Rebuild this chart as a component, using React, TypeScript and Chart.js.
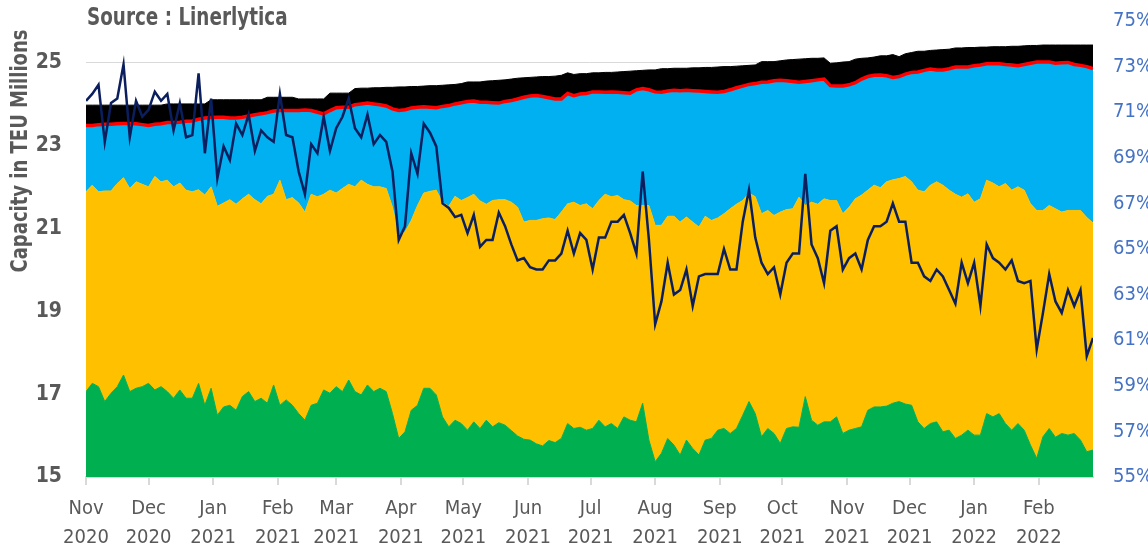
import React, { useEffect, useRef } from 'react';
import { Chart, registerables } from 'chart.js';

Chart.register(...registerables);

// ---- data ----
const START_DATE = '2020-11-01';
const STEP_DAYS = 3; // one sample every 3 days

const MONTH_STARTS = [
  '2020-11-01', '2020-12-01', '2021-01-01', '2021-02-01', '2021-03-01', '2021-04-01',
  '2021-05-01', '2021-06-01', '2021-07-01', '2021-08-01', '2021-09-01', '2021-10-01',
  '2021-11-01', '2021-12-01', '2022-01-01', '2022-02-01',
];
const MONTH_LABELS = ['Nov', 'Dec', 'Jan', 'Feb', 'Mar', 'Apr', 'May', 'Jun', 'Jul', 'Aug', 'Sep', 'Oct', 'Nov', 'Dec', 'Jan', 'Feb'];
const YEAR_LABELS = ['2020', '2020', '2021', '2021', '2021', '2021', '2021', '2021', '2021', '2021', '2021', '2021', '2021', '2021', '2022', '2022'];

const LEFT_TICKS = [15, 17, 19, 21, 23, 25];
const RIGHT_TICKS = [55, 57, 59, 61, 63, 65, 67, 69, 71, 73, 75];

// upper edge of each band, TEU millions
const GREEN_TOP = [
  17.06, 17.26, 17.18, 16.82, 17.02, 17.18, 17.46, 17.06, 17.14, 17.18,
  17.26, 17.10, 17.18, 17.06, 16.90, 17.10, 16.90, 16.90, 17.26, 16.73,
  17.14, 16.49, 16.69, 16.73, 16.61, 16.94, 17.06, 16.82, 16.90, 16.78,
  17.22, 16.73, 16.86, 16.73, 16.53, 16.37, 16.73, 16.78, 17.10, 17.02,
  17.18, 17.06, 17.34, 17.06, 16.98, 17.22, 17.06, 17.14, 17.06, 16.53,
  15.93, 16.09, 16.61, 16.73,
  17.14, 17.14, 16.98, 16.45, 16.21, 16.37, 16.29, 16.13, 16.33, 16.17,
  16.37, 16.21, 16.31, 16.25, 16.12, 15.99, 15.91, 15.89, 15.80, 15.75,
  15.88, 15.83, 15.93, 16.29, 16.17, 16.20, 16.13, 16.17, 16.37, 16.21,
  16.29, 16.17, 16.45, 16.37, 16.33, 16.78, 15.89, 15.37, 15.57, 15.93,
  15.77, 15.53, 15.89, 15.69, 15.53, 15.89, 15.93, 16.13, 16.17, 16.05,
  16.17, 16.49, 16.82, 16.53,
  15.97, 16.17, 16.05, 15.81, 16.17, 16.21, 16.20, 16.94, 16.37, 16.25,
  16.33, 16.33, 16.45, 16.05, 16.13, 16.17, 16.21, 16.61, 16.69, 16.69,
  16.71, 16.78, 16.82, 16.76, 16.73, 16.33, 16.17, 16.29, 16.33, 16.09,
  16.13, 15.93, 16.01, 16.13, 16.01, 16.01, 16.53, 16.45, 16.53, 16.29,
  16.13, 16.29, 16.13, 15.77, 15.45, 15.97, 16.17, 15.96, 16.05, 16.01,
  16.05, 15.89, 15.61, 15.65,
];

const YELLOW_TOP = [
  21.88, 22.04, 21.88, 21.90, 21.90, 22.08, 22.22, 21.96, 22.12, 22.06,
  22.00, 22.25, 22.12, 22.16, 22.00, 22.09, 21.92, 21.88, 21.93, 21.80,
  22.00, 21.53, 21.61, 21.69, 21.58, 21.71, 21.82, 21.69, 21.59, 21.77,
  21.82, 22.16, 21.69, 21.74, 21.61, 21.39, 21.82, 21.76, 21.82, 21.92,
  21.85, 21.96, 22.06, 22.00, 22.16, 22.06, 22.00, 22.00, 21.96, 21.51,
  20.83, 20.91, 21.19, 21.55,
  21.85, 21.89, 21.92, 21.63, 21.53, 21.77, 21.67, 21.74, 21.82, 21.66,
  21.58, 21.67, 21.69, 21.69, 21.63, 21.51, 21.15, 21.19, 21.19, 21.23,
  21.25, 21.21, 21.39, 21.59, 21.63, 21.55, 21.59, 21.47, 21.67, 21.82,
  21.76, 21.79, 21.69, 21.66, 21.55, 21.55, 21.55, 21.07, 21.07, 21.29,
  21.29, 21.15, 21.27, 21.15, 21.03, 21.29, 21.19, 21.25, 21.35, 21.47,
  21.58, 21.67, 21.85, 21.76,
  21.35, 21.43, 21.31, 21.39, 21.45, 21.47, 21.75, 21.55, 21.63, 21.58,
  21.71, 21.67, 21.67, 21.35, 21.51, 21.71, 21.80, 21.92, 22.04, 21.98,
  22.12, 22.17, 22.20, 22.25, 22.12, 21.92, 21.88, 22.04, 22.12, 22.04,
  21.92, 21.82, 21.75, 21.83, 21.63, 21.71, 22.16, 22.09, 22.00, 22.08,
  21.92, 22.00, 21.92, 21.59, 21.43, 21.43, 21.55, 21.47, 21.39, 21.43,
  21.43, 21.43, 21.26, 21.13,
];

const BLUE_TOP = [
  23.48, 23.48, 23.50, 23.51, 23.51, 23.52, 23.53, 23.53, 23.52, 23.50,
  23.48, 23.51, 23.52, 23.55, 23.55, 23.56, 23.58, 23.59, 23.63, 23.66,
  23.67, 23.68, 23.68, 23.66, 23.66, 23.68, 23.71, 23.74, 23.76, 23.79,
  23.83, 23.84, 23.84, 23.84, 23.84, 23.85, 23.84, 23.80, 23.76, 23.84,
  23.91, 23.92, 23.92, 23.98, 24.00, 24.02, 24.00, 23.98, 23.95, 23.88,
  23.84, 23.86, 23.90, 23.92,
  23.93, 23.92, 23.91, 23.94, 23.96, 24.00, 24.03, 24.06, 24.07, 24.04,
  24.04, 24.03, 24.02, 24.06, 24.08, 24.12, 24.16, 24.19, 24.20, 24.18,
  24.15, 24.12, 24.12, 24.25, 24.20, 24.24, 24.25, 24.29, 24.29, 24.28,
  24.29, 24.28, 24.27, 24.26, 24.34, 24.37, 24.34, 24.29, 24.28, 24.31,
  24.33, 24.32, 24.33, 24.32, 24.31, 24.30, 24.29, 24.28, 24.30, 24.34,
  24.39, 24.43, 24.47, 24.49,
  24.52, 24.53, 24.56, 24.57, 24.56, 24.54, 24.52, 24.54, 24.56, 24.58,
  24.60, 24.44, 24.43, 24.43, 24.46, 24.51, 24.60, 24.66, 24.69, 24.70,
  24.68, 24.64, 24.66, 24.72, 24.76, 24.77, 24.81, 24.84, 24.82, 24.82,
  24.85, 24.89, 24.89, 24.89, 24.92, 24.94, 24.97, 24.97, 24.97, 24.95,
  24.94, 24.92, 24.95, 24.98, 25.01, 25.01, 25.01, 24.98, 24.99, 25.00,
  24.95, 24.93, 24.90, 24.85,
];

const BLACK_TOP = [
  23.97, 23.97, 23.97, 23.97, 23.97, 23.97, 23.97, 23.97, 23.97, 23.97,
  23.97, 23.97, 23.97, 24.00, 24.00, 24.00, 24.00, 24.00, 24.00, 24.00,
  24.10, 24.10, 24.10, 24.10, 24.10, 24.10, 24.10, 24.10, 24.10, 24.16,
  24.16, 24.16, 24.16, 24.16, 24.12, 24.12, 24.12, 24.12, 24.12, 24.26,
  24.26, 24.26, 24.26, 24.37, 24.38, 24.38, 24.39, 24.39, 24.40, 24.40,
  24.41, 24.41, 24.42, 24.42,
  24.43, 24.44, 24.44, 24.45, 24.46, 24.47, 24.49, 24.53, 24.53, 24.53,
  24.55, 24.56, 24.57, 24.58, 24.60, 24.62, 24.63, 24.64, 24.65, 24.66,
  24.66, 24.67, 24.69, 24.75, 24.71, 24.73, 24.73, 24.75, 24.75, 24.76,
  24.76, 24.77, 24.78, 24.79, 24.80, 24.81, 24.82, 24.82, 24.85, 24.85,
  24.86, 24.86, 24.86, 24.87, 24.87, 24.88, 24.88, 24.89, 24.90, 24.90,
  24.91, 24.92, 24.93, 24.94,
  25.02, 25.02, 25.02, 25.04, 25.06, 25.07, 25.08, 25.09, 25.10, 25.10,
  25.11, 24.98, 24.99, 25.01, 25.02, 25.08, 25.10, 25.11, 25.13, 25.16,
  25.16, 25.19, 25.14, 25.21, 25.24, 25.27, 25.27, 25.29, 25.30, 25.31,
  25.32, 25.35, 25.35, 25.36, 25.36, 25.37, 25.37, 25.38, 25.38, 25.38,
  25.39, 25.39, 25.40, 25.41, 25.41, 25.42, 25.42, 25.42, 25.42, 25.42,
  25.42, 25.42, 25.42, 25.42,
];

// utilisation %, right axis
const UTILISATION = [
  71.5, 71.8, 72.2, 69.7, 71.4, 71.6, 73.1, 69.9, 71.5, 70.8,
  71.1, 71.9, 71.5, 71.8, 70.2, 71.4, 69.9, 70.0, 72.7, 69.2,
  71.6, 68.1, 69.5, 68.9, 70.5, 70.0, 70.9, 69.3, 70.2, 69.9,
  69.7, 71.8, 70.0, 69.9, 68.4, 67.4, 69.6, 69.2, 70.8, 69.3,
  70.3, 70.8, 71.6, 70.3, 69.9, 70.9, 69.6, 70.0, 69.7, 68.4,
  65.4, 66.0, 69.2, 68.3,
  70.5, 70.1, 69.5, 67.0, 66.8, 66.4, 66.5, 65.7, 66.5, 65.1,
  65.4, 65.4, 66.6, 66.0, 65.2, 64.5, 64.6, 64.2, 64.1, 64.1,
  64.5, 64.5, 64.8, 65.8, 64.8, 65.7, 65.4, 64.1, 65.5, 65.5,
  66.2, 66.2, 66.5, 65.7, 64.8, 68.4, 65.4, 61.7, 62.7, 64.4,
  63.0, 63.2, 64.1, 62.5, 63.8, 63.9, 63.9, 63.9, 65.0, 64.1,
  64.1, 66.2, 67.6, 65.5,
  64.4, 63.9, 64.2, 63.0, 64.4, 64.8, 64.8, 68.3, 65.2, 64.6,
  63.5, 65.8, 66.0, 64.1, 64.6, 64.8, 64.1, 65.4, 66.0, 66.0,
  66.2, 67.0, 66.2, 66.2, 64.4, 64.4, 63.8, 63.6, 64.1, 63.8,
  63.2, 62.6, 64.4, 63.5, 64.4, 62.5, 65.2, 64.6, 64.4, 64.1,
  64.5, 63.6, 63.5, 63.6, 60.6, 62.2, 63.9, 62.7, 62.2, 63.2,
  62.5, 63.2, 60.3, 61.1,
];

// ---- helpers ----
const DAY_MS = 86400000;
const dayOffset = (d: string) => Math.round((Date.parse(d) - Date.parse(START_DATE)) / DAY_MS);
const MONTH_OFFSETS = MONTH_STARTS.map(dayOffset);
const LAST_DAY = (GREEN_TOP.length - 1) * STEP_DAYS;
const toXY = (arr: number[]) => arr.map((y, i) => ({ x: i * STEP_DAYS, y }));

const FONT = "'DejaVu Sans Condensed', 'Liberation Sans Narrow', 'Roboto', sans-serif";
const GRAY = '#595959';

const drawCondensed = (ctx: any, text: string, x: number, y: number, sx: number, align: string) => {
  ctx.save();
  ctx.translate(x, y);
  ctx.scale(sx, 1);
  ctx.textAlign = align;
  ctx.fillText(text, 0, 0);
  ctx.restore();
};

const textPlugin = {
  id: 'extraTexts',
  afterDraw(chart: any) {
    const ctx = chart.ctx;
    ctx.save();
    ctx.fillStyle = GRAY;
    ctx.textBaseline = 'alphabetic';
    ctx.font = `bold 24px ${FONT}`;
    drawCondensed(ctx, 'Source : Linerlytica', chart.chartArea.left + 1, 25, 0.85, 'left');
    ctx.translate(27, 151);
    ctx.rotate(-Math.PI / 2);
    ctx.font = `bold 23px ${FONT}`;
    drawCondensed(ctx, 'Capacity in TEU Millions', 0, 0, 0.87, 'center');
    ctx.restore();
  },
};

const noEdgePadding = (s: any) => {
  s.paddingTop = 0;
  s.paddingBottom = 0;
  s.paddingLeft = 0;
  s.paddingRight = 0;
};

export default function App() {
  const ref = useRef<HTMLCanvasElement | null>(null);

  useEffect(() => {
    if (!ref.current) return;
    const area = (data: number[], color: string, fill: any) => ({
      data: toXY(data),
      yAxisID: 'y',
      backgroundColor: color,
      borderColor: color,
      borderWidth: 1,
      fill,
      pointRadius: 0,
      tension: 0,
      order: 2,
    });
    const chart = new Chart(ref.current, {
      type: 'line',
      data: {
        datasets: [
          area(GREEN_TOP, '#00B050', 'start'),
          area(YELLOW_TOP, '#FFC000', '-1'),
          area(BLUE_TOP, '#00B0F0', '-1'),
          area(BLACK_TOP, '#000000', '-1'),
          {
            data: toXY(BLUE_TOP),
            yAxisID: 'y',
            borderColor: '#FF0000',
            borderWidth: 3.5,
            fill: false,
            pointRadius: 0,
            tension: 0,
            order: 1,
          },
          {
            data: toXY(UTILISATION),
            yAxisID: 'y2',
            borderColor: '#0B1F5E',
            borderWidth: 2.5,
            fill: false,
            pointRadius: 0,
            tension: 0,
            order: 0,
          },
        ],
      },
      options: {
        responsive: false,
        animation: false,
        devicePixelRatio: 1,
        layout: { padding: { top: 21, left: 0, right: 0, bottom: 0 } },
        plugins: { legend: { display: false }, tooltip: { enabled: false } },
        scales: {
          x: {
            type: 'linear',
            min: 0,
            max: LAST_DAY,
            afterBuildTicks: (s: any) => {
              s.ticks = MONTH_OFFSETS.map((v) => ({ value: v }));
            },
            afterFit: (s: any) => {
              s.height = 75;
              noEdgePadding(s);
            },
            grid: { drawOnChartArea: false, drawTicks: true, tickLength: 8, color: '#D9D9D9', lineWidth: 2 },
            border: { display: true, color: '#D9D9D9', width: 2 },
            ticks: {
              autoSkip: false,
              maxRotation: 0,
              minRotation: 0,
              padding: 9,
              color: GRAY,
              font: { family: FONT, size: 20, lineHeight: 1.47 },
              callback: (v: any) => {
                const idx = MONTH_OFFSETS.indexOf(Number(v));
                return idx >= 0 ? [MONTH_LABELS[idx], YEAR_LABELS[idx]] : '';
              },
            },
          },
          y: {
            type: 'linear',
            position: 'left',
            min: 15,
            max: 26,
            afterBuildTicks: (s: any) => {
              s.ticks = LEFT_TICKS.map((v) => ({ value: v }));
            },
            afterFit: (s: any) => {
              s.width = 86;
              noEdgePadding(s);
            },
            grid: { color: '#D9D9D9', lineWidth: 1, drawTicks: false },
            border: { display: false },
            ticks: {
              padding: 24,
              color: GRAY,
              font: { family: FONT, size: 21, weight: 'bold' },
            },
          },
          y2: {
            type: 'linear',
            position: 'right',
            min: 55,
            max: 75,
            afterBuildTicks: (s: any) => {
              s.ticks = RIGHT_TICKS.map((v) => ({ value: v }));
            },
            afterFit: (s: any) => {
              s.width = 55;
              noEdgePadding(s);
            },
            grid: { display: false, drawTicks: false },
            border: { display: false },
            ticks: {
              padding: 20,
              color: '#4472C4',
              font: { family: FONT, size: 20 },
              callback: (v: any) => `${v}%`,
            },
          },
        },
      },
      plugins: [textPlugin],
    } as any);
    return () => chart.destroy();
  }, []);

  return (
    <div style={{ position: 'fixed', left: 0, top: 0, width: 1148, height: 552, background: '#fff' }}>
      <canvas ref={ref} width={1148} height={552} />
    </div>
  );
}
